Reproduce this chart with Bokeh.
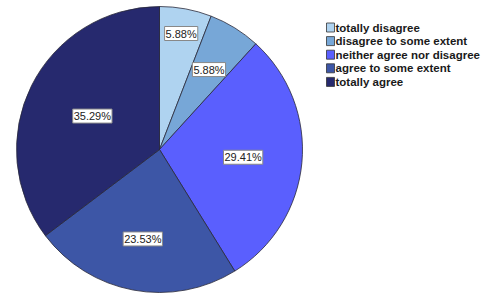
import math
from bokeh.plotting import figure
from bokeh.models import Range1d, ColumnDataSource
from bokeh.core.properties import value
from bokeh.embed import file_html
from bokeh.resources import INLINE

categories = ["totally disagree", "disagree to some extent", "neither agree nor disagree",
              "agree to some extent", "totally agree"]
percents = [5.88, 5.88, 29.41, 23.53, 35.29]
labels = ["5.88%", "5.88%", "29.41%", "23.53%", "35.29%"]
colors = ["#AFD3F0", "#77A7D7", "#5A5FFE", "#3D56A6", "#26296E"]

W, H = 483, 295
p = figure(width=W, height=H, output_backend="svg", toolbar_location=None,
           x_range=Range1d(0, W), y_range=Range1d(0, H), min_border=0)
p.axis.visible = False
p.grid.visible = False
p.outline_line_color = None

cx, cy, R = 159, H - 149, 143
total = sum(percents)
starts, ends, mids = [], [], []
acc = 0.0
for v in percents:
    a0 = math.pi / 2 - 2 * math.pi * acc / total
    acc += v
    a1 = math.pi / 2 - 2 * math.pi * acc / total
    starts.append(a0); ends.append(a1); mids.append((a0 + a1) / 2)

src = ColumnDataSource(dict(start=starts, end=ends, color=colors))
p.wedge(x=cx, y=cy, radius=R, start_angle="start", end_angle="end", direction="clock",
        fill_color="color", line_color="#2a2a3a", line_width=0.8, source=src)

label_r = [118, 94, 84, 91, 75]
lx = [cx + r * math.cos(a) for r, a in zip(label_r, mids)]
ly = [cy + r * math.sin(a) for r, a in zip(label_r, mids)]
p.text(x=lx, y=ly, text=labels, text_align="center", text_baseline="middle",
       text_font=value("Liberation Sans"), text_font_size="11px", text_color="#222222",
       background_fill_color="white", border_line_color="#888888", border_line_width=1,
       padding=1)

# legend
leg_x, leg_y0, leg_dy = 330, H - 27, 13.6
ys = [leg_y0 - i * leg_dy for i in range(len(categories))]
p.rect(x=[leg_x] * len(categories), y=ys, width=8, height=9, fill_color=colors,
       line_color="#333333", line_width=0.8)
p.text(x=[leg_x + 5] * len(categories), y=ys, text=categories, text_align="left",
       text_baseline="middle", text_font=value("Liberation Sans"), text_font_size="11.5px",
       text_font_style="bold", text_color="#1a1a1a")

open("out.html", "w").write(file_html(p, INLINE))
